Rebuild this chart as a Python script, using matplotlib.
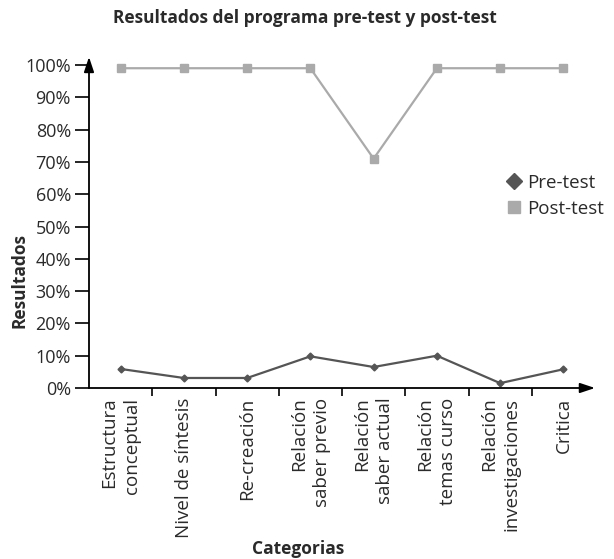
import matplotlib.pyplot as plt
from matplotlib.lines import Line2D
from matplotlib.ticker import FuncFormatter

plt.rcParams['font.family'] = ['Open Sans', 'DejaVu Sans']

categorias = [
    "Estructura\nconceptual",
    "Nivel de síntesis",
    "Re-creación",
    "Relación\nsaber previo",
    "Relación\nsaber actual",
    "Relación\ntemas curso",
    "Relación\ninvestigaciones",
    "Critica",
]
pre_test = [0.059, 0.031, 0.031, 0.098, 0.065, 0.100, 0.015, 0.058]
post_test = [0.99, 0.99, 0.99, 0.99, 0.71, 0.99, 0.99, 0.99]
y_ticks = [i / 10 for i in range(11)]

pre_color = "#555555"
post_color = "#aaaaaa"
text_color = "#2a2a2a"

fig = plt.figure(figsize=(6.14, 5.59), dpi=100)
ax = fig.add_axes([89 / 614, 171 / 559, 506 / 614, 323 / 559])

x = [i + 0.5 for i in range(len(categorias))]
ax.plot(x, post_test, color=post_color, lw=1.6, marker="s", ms=5.5, clip_on=False)
ax.plot(x, pre_test, color=pre_color, lw=1.6, marker="D", ms=3.5, clip_on=False)

ax.set_xlim(0, len(categorias))
ax.set_ylim(0, 1)

for s in ax.spines.values():
    s.set_visible(False)
# ejes con flechas
ax.annotate("", xy=(0, 1.025), xytext=(0, 0), xycoords="axes fraction",
            arrowprops=dict(arrowstyle="-|>,head_length=0.9,head_width=0.3", color="black", lw=1.3,
                            shrinkA=0, shrinkB=0))
ax.annotate("", xy=(1.0, 0), xytext=(0, 0), xycoords="axes fraction",
            arrowprops=dict(arrowstyle="-|>,head_length=0.9,head_width=0.3", color="black", lw=1.3,
                            shrinkA=0, shrinkB=0))

ax.set_yticks(y_ticks)
ax.yaxis.set_major_formatter(FuncFormatter(lambda v, p: f"{v * 100:.0f}%"))
ax.tick_params(axis="y", length=10, width=1.2, labelsize=13, pad=3, colors=text_color)
ax.tick_params(axis="y", color="black")

ax.set_xticks(range(1, len(categorias)))
ax.set_xticklabels([])
ax.tick_params(axis="x", length=6, width=1.2, direction="out")
for xi, lab in zip(x, categorias):
    ax.text(xi, -0.03, lab, rotation=90, ha="center", va="top", multialignment="right",
            fontsize=13.5, color=text_color, linespacing=1.35)

fig.text(305 / 614, 1 - 18 / 559, "Resultados del programa pre-test y post-test",
         ha="center", va="center", fontsize=12.5, fontweight="bold", color=text_color)
fig.text(298 / 614, 1 - 549 / 559, "Categorias", ha="center", va="center",
         fontsize=12.5, fontweight="bold", color=text_color)
fig.text(20 / 614, 1 - 280 / 559, "Resultados", ha="center", va="center", rotation=90,
         fontsize=12.5, fontweight="bold", color=text_color)

handles = [
    Line2D([], [], color=pre_color, marker="D", ls="none", ms=8),
    Line2D([], [], color=post_color, marker="s", ls="none", ms=8),
]
ax.legend(handles, ["Pre-test", "Post-test"], loc="center left", bbox_to_anchor=(0.785, 0.595),
          frameon=False, fontsize=13.5, handletextpad=0.1, labelspacing=0.45, handlelength=1.2,
          labelcolor=text_color)

fig.savefig("out.png", dpi=100)
